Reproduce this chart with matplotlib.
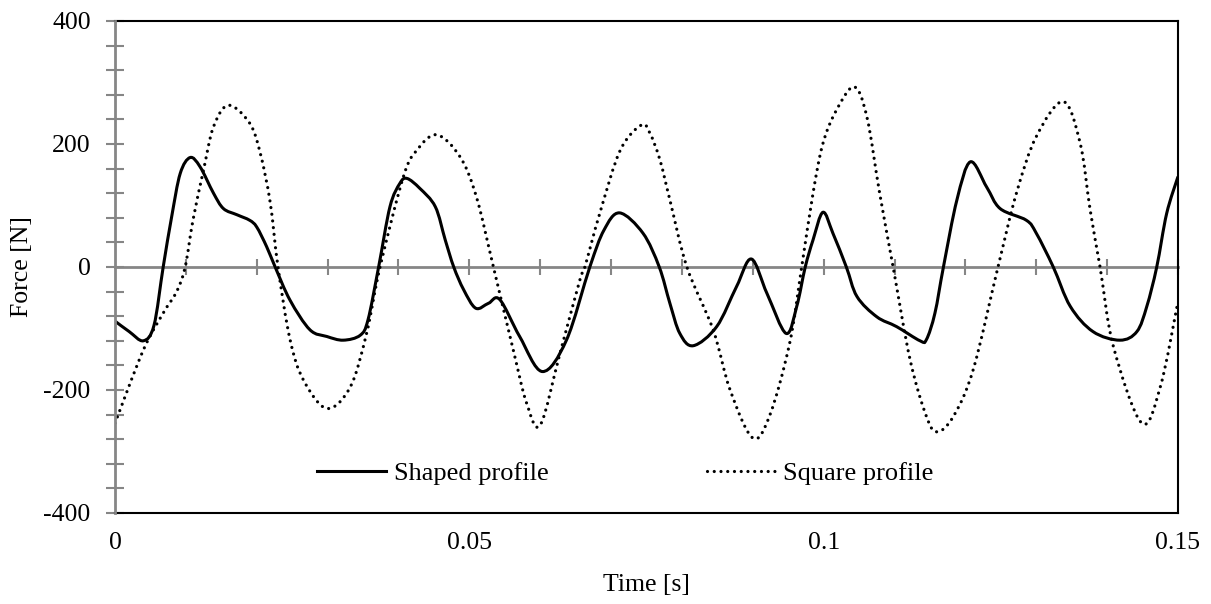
import numpy as np
import matplotlib
matplotlib.use("Agg")
import matplotlib.pyplot as plt
from matplotlib.ticker import MultipleLocator
from matplotlib.lines import Line2D
from matplotlib.path import Path
from matplotlib.patches import PathPatch

# values
shaped_t = [0.0, 0.002, 0.004, 0.0055, 0.0068, 0.008, 0.0092, 0.0106, 0.012, 0.0139,
            0.0153, 0.0172, 0.019, 0.020, 0.0214, 0.0226, 0.0247, 0.0275, 0.0299, 0.0322,
            0.0346, 0.0357, 0.0372, 0.0388, 0.0402, 0.0412, 0.043, 0.0452, 0.0466, 0.0478,
            0.0492, 0.0509, 0.0527, 0.0543, 0.0571, 0.0603, 0.0637, 0.067, 0.069, 0.0712,
            0.0745, 0.0768, 0.0783, 0.0797, 0.0816, 0.0849, 0.0877, 0.0898, 0.092, 0.0947,
            0.0962, 0.0974, 0.0985, 0.0999, 0.1013, 0.1032, 0.1047, 0.1075, 0.1103,
            0.1136, 0.1145, 0.1157, 0.1169, 0.1188, 0.1207, 0.123, 0.1249, 0.1286, 0.13,
            0.1324, 0.1348, 0.138, 0.1418, 0.1442, 0.1456, 0.147, 0.1484, 0.15]
shaped_f = [-88, -105, -120, -95, 0, 82, 152, 178, 163, 120,
            95, 85, 76, 65, 33, 0, -54, -102, -113, -119,
            -111, -86, 0, 98, 136, 144, 128, 98, 44, 0,
            -37, -67, -59, -53, -113, -170, -119, 0, 60, 88,
            55, 0, -59, -108, -128, -97, -32, 13, -43, -108,
            -64, 0, 44, 89, 55, 0, -48, -81, -97,
            -120, -118, -75, 0, 109, 171, 130, 95, 76, 55,
            0, -64, -105, -119, -105, -64, 0, 87, 147]

square_t = [0.0, 0.004, 0.0068, 0.0087, 0.0099, 0.011, 0.0125, 0.0139, 0.016, 0.019,
            0.0205, 0.0219, 0.0230, 0.0247, 0.0266, 0.0299, 0.0332, 0.0355, 0.0374, 0.0407,
            0.0426, 0.0454, 0.0487, 0.051, 0.0534, 0.0562, 0.0581, 0.060, 0.0628, 0.0656,
            0.0663, 0.0684, 0.0713, 0.0743, 0.0755, 0.0769, 0.0783, 0.0807, 0.0844, 0.0868,
            0.090, 0.0924, 0.0952, 0.0969, 0.0985, 0.0999, 0.1018, 0.1043, 0.1061, 0.1079,
            0.1098, 0.1122, 0.1145, 0.116, 0.1183, 0.1211, 0.1246, 0.1272, 0.13, 0.1338,
            0.1362, 0.1376, 0.139, 0.1409, 0.1449, 0.1475, 0.15]
square_f = [-254, -135, -75, -40, 0, 76, 158, 228, 263, 234,
            185, 105, 0, -118, -184, -230, -195, -108, 0, 147,
            190, 215, 179, 114, 0, -135, -222, -257, -140, -21,
            0, 87, 190, 231, 217, 174, 109, 0, -102, -200,
            -278, -241, -124, 0, 120, 201, 255, 293, 244, 120,
            0, -151, -243, -268, -243, -167, 0, 120, 212, 269,
            201, 93, 0, -130, -254, -195, -56]

x_labels = [0, 0.05, 0.1, 0.15]
y_labels = [-400, -200, 0, 200, 400]

GREY = "#868686"
FS = 18.5
DOTS = (0, (0.01, 2.1))

plt.rcParams['font.family'] = ['Liberation Serif', 'DejaVu Serif']


def smooth_path(xs, ys):
    # Excel style "smoothed line": cubic bezier through every point
    p = np.column_stack([xs, ys]).astype(float)
    n = len(p)
    verts = [p[0]]
    codes = [Path.MOVETO]
    for i in range(n - 1):
        p0 = p[max(i - 1, 0)]
        p1 = p[i]
        p2 = p[i + 1]
        p3 = p[min(i + 2, n - 1)]
        c1 = p1 + (p2 - p0) / 6
        c2 = p2 - (p3 - p1) / 6
        verts += [c1, c2, p2]
        codes += [Path.CURVE4] * 3
    return Path(verts, codes)


fig = plt.figure(figsize=(12.11, 6.04), dpi=100)
ax = fig.add_axes([115 / 1211, 1 - 513 / 604, 1063 / 1211, 492 / 604])

ax.add_patch(PathPatch(smooth_path(shaped_t, shaped_f), fill=False, edgecolor="black",
                       lw=2.2, joinstyle="round", zorder=3))
ax.add_patch(PathPatch(smooth_path(square_t, square_f), fill=False, edgecolor="black",
                       lw=2.3, linestyle=DOTS, capstyle="round", zorder=3))

ax.set_xlim(0, 0.15)
ax.set_ylim(-400, 400)

# frame
for s in ["top", "right", "bottom"]:
    ax.spines[s].set_color("black")
    ax.spines[s].set_linewidth(1.5)
ax.spines["left"].set_color(GREY)
ax.spines["left"].set_linewidth(2)
ax.spines["left"].set_zorder(4)

# y axis ticks
ax.set_yticks(y_labels)
ax.set_yticklabels([str(v) for v in y_labels])
ax.yaxis.set_minor_locator(MultipleLocator(40))
ax.tick_params(axis="y", which="both", direction="inout", length=13, width=1.5,
               color=GREY, labelsize=FS, pad=11)

# x tick labels sit under the frame, with no marks
ax.set_xticks(x_labels)
ax.set_xticklabels(["0", "0.05", "0.1", "0.15"])
ax.tick_params(axis="x", which="both", length=0, labelsize=FS, pad=14)

# zero line carrying the x ticks
zero_ax = ax.secondary_xaxis(0.5)
zero_ax.set_xticks(np.arange(0.01, 0.1501, 0.01))
zero_ax.set_xticklabels([])
zero_ax.tick_params(direction="inout", length=12, width=1.5, color=GREY,
                    labelbottom=False, labeltop=False)
for s in zero_ax.spines.values():
    s.set_color(GREY)
    s.set_linewidth(2)

ax.set_xlabel("Time [s]", fontsize=FS, va="center", ha="center")
ax.xaxis.set_label_coords(0.5, -72 / 492)
ax.set_ylabel("Force [N]", fontsize=FS, va="center", ha="center")
ax.yaxis.set_label_coords(-93 / 1063, 0.5)

handles = [Line2D([], [], color="black", lw=2.2),
           Line2D([], [], color="black", lw=2.3, linestyle=DOTS, dash_capstyle="round")]
ax.legend(handles, ["Shaped profile", "Square profile"], loc="center",
          bbox_to_anchor=(0.48, 40 / 492), ncol=2, frameon=False, fontsize=19,
          handlelength=2.6, handletextpad=0.3, columnspacing=6.0,
          borderaxespad=0, borderpad=0)

fig.savefig("out.png", dpi=100)
